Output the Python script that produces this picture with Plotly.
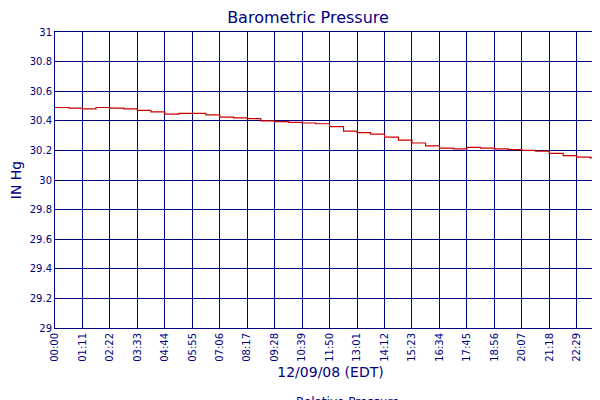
import plotly.graph_objects as go

minutes = [0, 36, 71, 106, 142, 178, 213, 248, 284, 320, 355, 390, 426, 462, 497, 532, 568, 604, 639, 674, 710, 746, 781, 816, 852, 888, 923, 958, 994, 1030, 1065, 1100, 1136, 1172, 1207, 1242, 1278, 1314, 1349, 1384, 1424]
pressure = [30.49, 30.485, 30.48, 30.49, 30.485, 30.48, 30.47, 30.46, 30.445, 30.45, 30.45, 30.44, 30.425, 30.42, 30.415, 30.40, 30.395, 30.39, 30.385, 30.38, 30.36, 30.33, 30.32, 30.31, 30.29, 30.27, 30.25, 30.23, 30.215, 30.21, 30.22, 30.215, 30.21, 30.205, 30.2, 30.195, 30.18, 30.165, 30.155, 30.15, 30.13]
tick_vals = [0, 71, 142, 213, 284, 355, 426, 497, 568, 639, 710, 781, 852, 923, 994, 1065, 1136, 1207, 1278, 1349, 1420, 1424]
tick_text = ["00:00", "01:11", "02:22", "03:33", "04:44", "05:55", "07:06", "08:17", "09:28", "10:39", "11:50", "13:01", "14:12", "15:23", "16:34", "17:45", "18:56", "20:07", "21:18", "22:29", "23:40", "23:44"]
y_ticks = [29, 29.2, 29.4, 29.6, 29.8, 30, 30.2, 30.4, 30.6, 30.8, 31]

navy = "#000080"
fig = go.Figure(go.Scatter(x=minutes, y=pressure, mode="lines", line=dict(color="#cc0000", width=1.2, shape="hv"), name="Relative Pressure"))
fig.update_layout(
    width=600, height=400, margin=dict(l=47, r=2, t=24, b=80, autoexpand=False),
    paper_bgcolor="white", plot_bgcolor="white",
    font=dict(family="DejaVu Sans", color=navy, size=10),
    title=dict(text="Barometric Pressure", x=0.5, xanchor="center", y=0.99, yanchor="top", font=dict(size=16, color=navy)),
    showlegend=True,
    legend=dict(orientation="h", x=0.5, xanchor="center", y=-0.2, yanchor="top", font=dict(size=12, color=navy)),
)
fig.update_xaxes(range=[0, 1424.6], tickvals=tick_vals, ticktext=tick_text, tickangle=-90, showgrid=True, gridcolor=navy, gridwidth=1,
                 showline=True, linecolor=navy, mirror=True, ticks="", zeroline=False, automargin=False,
                 title=dict(text="12/09/08 (EDT)", font=dict(size=14, color=navy), standoff=6))
fig.update_yaxes(range=[29, 31], tickvals=y_ticks, ticktext=[f"{v:g}" for v in y_ticks], showgrid=True, gridcolor=navy, gridwidth=1,
                 showline=True, linecolor=navy, mirror=True, ticks="", zeroline=False, automargin=False,
                 title=dict(text="IN Hg", font=dict(size=14, color=navy), standoff=4))
fig.write_html("out.html")
